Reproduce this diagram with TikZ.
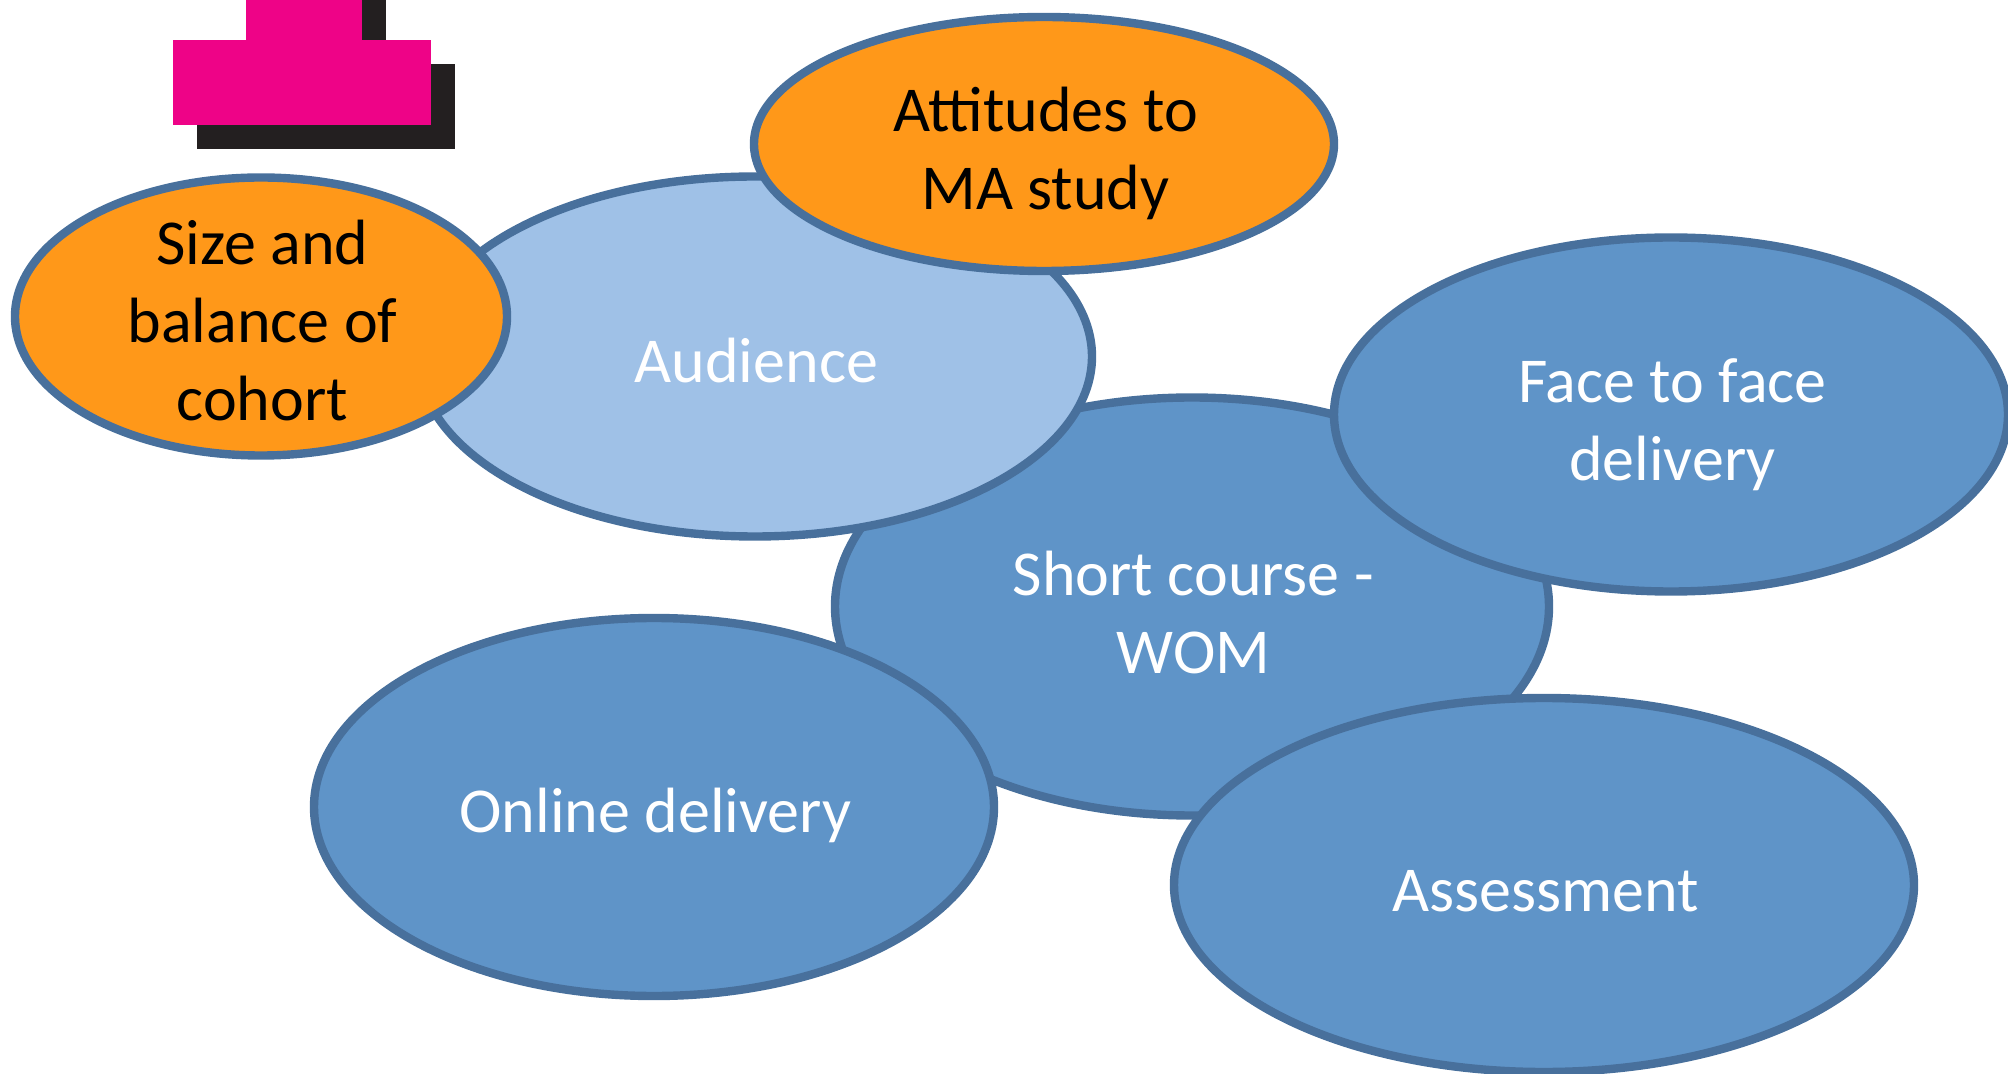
\documentclass[tikz,border=0pt]{standalone}
\usepackage{fontspec}
\setmainfont{Carlito}
\usetikzlibrary{shapes.geometric}
\definecolor{orangeF}{HTML}{FF9819}
\definecolor{lightF}{HTML}{9FC1E7}
\definecolor{blueF}{HTML}{5F94C8}
\definecolor{edgeC}{HTML}{48709C}
\definecolor{pinkF}{HTML}{EE0387}
\definecolor{darkF}{HTML}{231F20}
\tikzset{
  bubble/.style={ellipse,draw=edgeC,line width=4.2pt,inner sep=0pt,outer sep=0pt},
  orangeb/.style={bubble,fill=orangeF},
  lightb/.style={bubble,fill=lightF},
  blueb/.style={bubble,fill=blueF},
  txt/.style={align=center,inner sep=0pt,xshift=0.7pt,font=\fontsize{32}{39}\selectfont},
  blacktxt/.style={txt,text=black},
  whitetxt/.style={txt,text=white},
}
\begin{document}
\begin{tikzpicture}[x=0.5pt,y=-0.5pt]
\useasboundingbox (0,0) rectangle (2008,1074);
% logo fragment
\fill[darkF] (197,64) rectangle (455,149);
\fill[darkF] (270,0) rectangle (386,64);
\fill[pinkF] (173,40) rectangle (431,125);
\fill[pinkF] (246,0) rectangle (362,40);
% bubbles
\node[blueb,minimum width=357pt,minimum height=209pt,label={[whitetxt,yshift=-2.8pt]center:{Short course -\\WOM}}] (short) at (1192,606.5) {};
\node[lightb,minimum width=337pt,minimum height=180pt,label={[whitetxt,yshift=-2.2pt]center:{Audience}}] (aud) at (755,356.5) {};
\node[orangeb,minimum width=246pt,minimum height=139pt,label={[blacktxt,yshift=-2.0pt]center:{Size and\\balance of\\cohort}}] (size) at (261,316.5) {};
\node[orangeb,minimum width=290pt,minimum height=127pt,label={[blacktxt,yshift=-4.6pt]center:{Attitudes to\\MA study}}] (att) at (1044,144) {};
\node[blueb,minimum width=337pt,minimum height=177pt,label={[whitetxt,yshift=-5.2pt]center:{Face to face\\delivery}}] (face) at (1671,414.5) {};
\node[blueb,minimum width=340pt,minimum height=189pt,label={[whitetxt,yshift=-4.2pt]center:{Online delivery}}] (online) at (654,807) {};
\node[blueb,minimum width=370pt,minimum height=187pt,label={[whitetxt,yshift=-3.2pt]center:{Assessment}}] (assess) at (1544,885) {};
\end{tikzpicture}
\end{document}
